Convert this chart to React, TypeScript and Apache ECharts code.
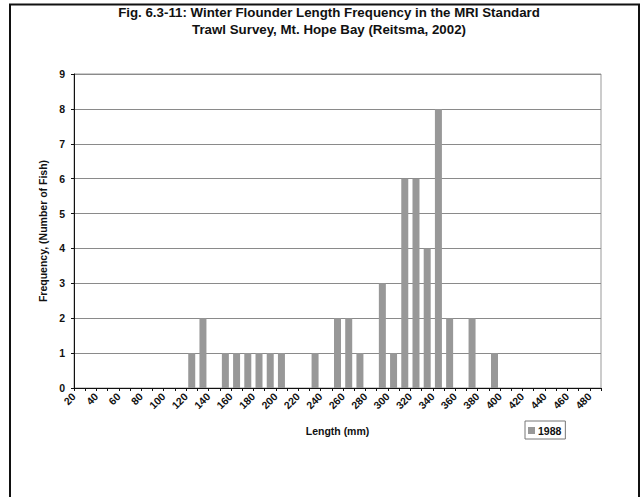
import React, { useEffect, useRef } from "react";
import * as echarts from "echarts";

const titleLines = [
  "Fig. 6.3-11: Winter Flounder Length Frequency in the MRI Standard",
  "Trawl Survey, Mt. Hope Bay (Reitsma, 2002)",
];
const seriesName = "1988";
// lower bound of each 10 mm length bin (mm) that holds fish
const binStarts = [120, 130, 150, 160, 170, 180, 190, 200, 230, 250, 260, 270, 290, 300, 310, 320, 330, 340, 350, 370, 390];
const counts = [1, 2, 1, 1, 1, 1, 1, 1, 1, 2, 2, 1, 3, 1, 6, 6, 4, 8, 2, 2, 1];
const binWidth = 10;
const xMin = 20;
const xMax = 490;
const yMax = 9;

const FONT = "'Liberation Sans', Arial, sans-serif";

export default function App() {
  const ref = useRef<HTMLDivElement>(null);
  useEffect(() => {
    if (!ref.current) return;
    const chart = echarts.init(ref.current, undefined, { renderer: "svg" });
    const data = binStarts.map((b, i) => [b + binWidth / 2, counts[i]]);
    chart.setOption({
      animation: false,
      backgroundColor: "#ffffff",
      textStyle: { fontFamily: FONT },
      graphic: [
        {
          type: "rect",
          shape: { x: 10, y: 4.5, width: 629, height: 600 },
          style: { fill: "none", stroke: "#111", lineWidth: 2 },
          z: 10,
        },
        {
          type: "text",
          x: 329,
          y: 12,
          style: {
            text: titleLines[0],
            textAlign: "center",
            textVerticalAlign: "middle",
            font: `bold 13.3px ${FONT}`,
            fill: "#111",
          },
        },
        {
          type: "text",
          x: 329,
          y: 29,
          style: {
            text: titleLines[1],
            textAlign: "center",
            textVerticalAlign: "middle",
            font: `bold 13.3px ${FONT}`,
            fill: "#111",
          },
        },
      ],
      legend: {
        data: [seriesName],
        left: 525,
        top: 421,
        orient: "vertical",
        borderColor: "#777",
        borderWidth: 1,
        borderRadius: 0,
        padding: [4, 4, 3, 3],
        itemWidth: 7,
        itemHeight: 7,
        itemGap: 2,
        icon: "rect",
        textStyle: { fontFamily: FONT, fontWeight: "bold", fontSize: 10.5, color: "#111", padding: [0, 0, 0, -2] },
      },
      grid: {
        left: 74,
        right: 40,
        top: 74,
        bottom: 109,
        show: true,
        borderColor: "#999",
        borderWidth: 1,
      },
      xAxis: {
        type: "value",
        min: xMin,
        max: xMax,
        interval: binWidth,
        name: "Length (mm)",
        nameLocation: "middle",
        nameGap: 37,
        nameTextStyle: { fontFamily: FONT, fontWeight: "bold", fontSize: 10.5, color: "#111" },
        axisLine: { show: true, lineStyle: { color: "#111", width: 1 } },
        axisTick: { show: true, length: 3, lineStyle: { color: "#111" } },
        splitLine: { show: false },
        axisLabel: {
          rotate: 45,
          margin: 7,
          fontFamily: FONT,
          fontWeight: "bold",
          fontSize: 10.5,
          color: "#111",
          showMaxLabel: true,
          formatter: (v: number) => (v % 20 === 0 ? String(v) : ""),
        },
      },
      yAxis: {
        type: "value",
        min: 0,
        max: yMax,
        interval: 1,
        name: "Frequency, (Number of Fish)",
        nameLocation: "middle",
        nameRotate: 90,
        nameGap: 23,
        nameTextStyle: { fontFamily: FONT, fontWeight: "bold", fontSize: 10.5, color: "#111" },
        axisLine: { show: true, lineStyle: { color: "#111", width: 1 } },
        axisTick: { show: true, length: 3, lineStyle: { color: "#111" } },
        splitLine: { show: true, lineStyle: { color: "#8a8a8a", width: 1 } },
        axisLabel: {
          margin: 9,
          fontFamily: FONT,
          fontWeight: "bold",
          fontSize: 10.5,
          color: "#111",
        },
      },
      series: [
        {
          name: seriesName,
          type: "bar",
          data,
          barWidth: 7,
          itemStyle: { color: "#989898" },
        },
      ],
    });
    return () => chart.dispose();
  }, []);
  return (
    <div
      ref={ref}
      style={{ position: "fixed", left: 0, top: 0, width: 641, height: 497 }}
    />
  );
}
